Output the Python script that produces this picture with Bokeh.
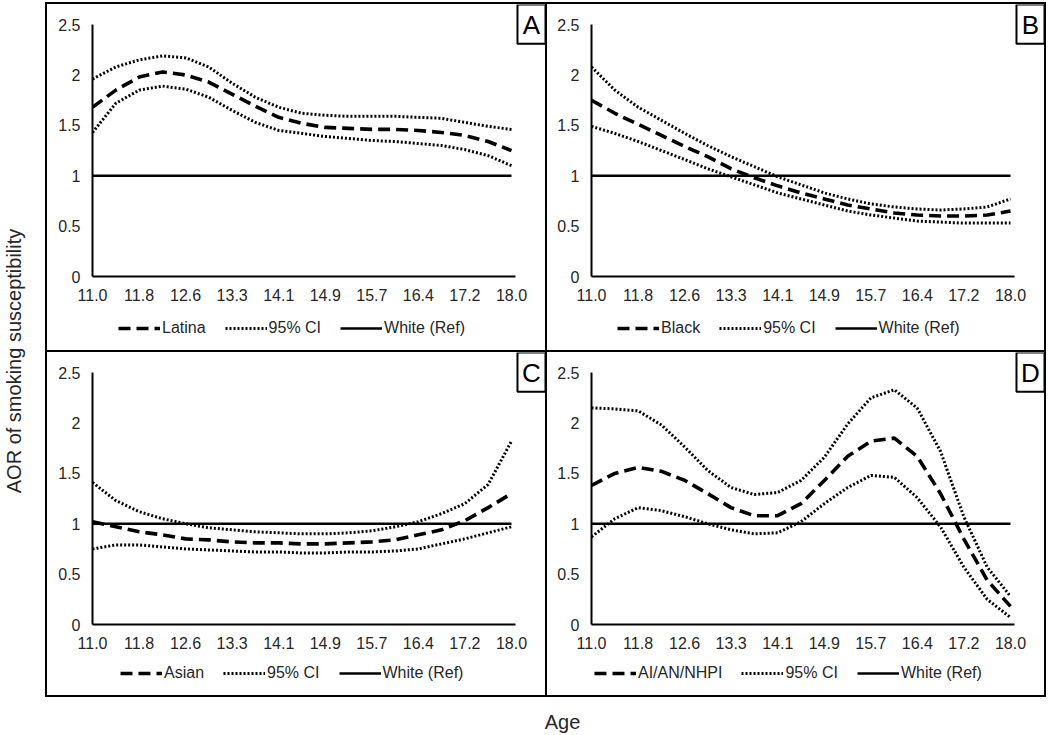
import numpy as np
from bokeh.plotting import figure
from bokeh.models import (Range1d, FixedTicker, Legend, LegendItem, Label, Title, Spacer,
                          BoxAnnotation)
from bokeh.layouts import row, column
from bokeh.embed import file_html
from bokeh.resources import INLINE

# ---------------- data ----------------
AGES = [11.0, 11.39, 11.78, 12.17, 12.56, 12.94, 13.33, 13.72, 14.11, 14.5,
        14.89, 15.28, 15.67, 16.06, 16.44, 16.83, 17.22, 17.61, 18.0]

TICK_POS = [11.0, 11.7778, 12.5556, 13.3333, 14.1111, 14.8889, 15.6667, 16.4444, 17.2222, 18.0]
TICK_LABELS = ["11.0", "11.8", "12.6", "13.3", "14.1", "14.9", "15.7", "16.4", "17.2", "18.0"]
Y_TICKS = [0, 0.5, 1, 1.5, 2, 2.5]
Y_LABELS = ["0", "0.5", "1", "1.5", "2", "2.5"]

REF_AGES = [11.0, 18.0]
REF_AOR = [1.0, 1.0]

LATINA = [1.68, 1.85, 1.98, 2.03, 2.00, 1.93, 1.81, 1.69, 1.58, 1.52,
          1.48, 1.47, 1.46, 1.46, 1.45, 1.43, 1.40, 1.34, 1.25]
LATINA_HI = [1.96, 2.08, 2.15, 2.19, 2.17, 2.08, 1.92, 1.78, 1.68, 1.62,
             1.60, 1.59, 1.59, 1.59, 1.58, 1.57, 1.53, 1.49, 1.46]
LATINA_LO = [1.43, 1.72, 1.85, 1.89, 1.86, 1.78, 1.65, 1.53, 1.45, 1.42,
             1.39, 1.37, 1.35, 1.34, 1.32, 1.30, 1.26, 1.20, 1.10]

BLACK = [1.75, 1.62, 1.51, 1.40, 1.29, 1.19, 1.07, 0.98, 0.90, 0.83,
         0.77, 0.71, 0.67, 0.63, 0.61, 0.60, 0.60, 0.61, 0.65]
BLACK_HI = [2.08, 1.85, 1.68, 1.55, 1.42, 1.30, 1.19, 1.09, 0.99, 0.91,
            0.83, 0.77, 0.72, 0.69, 0.67, 0.66, 0.67, 0.69, 0.77]
BLACK_LO = [1.49, 1.42, 1.34, 1.25, 1.16, 1.07, 0.99, 0.91, 0.83, 0.77,
            0.71, 0.65, 0.61, 0.58, 0.55, 0.54, 0.53, 0.53, 0.53]

ASIAN = [1.02, 0.97, 0.92, 0.89, 0.85, 0.84, 0.82, 0.81, 0.81, 0.80,
         0.80, 0.81, 0.82, 0.84, 0.89, 0.94, 1.03, 1.16, 1.30]
ASIAN_HI = [1.41, 1.23, 1.12, 1.05, 1.00, 0.96, 0.94, 0.92, 0.91, 0.90,
            0.90, 0.91, 0.93, 0.97, 1.02, 1.10, 1.20, 1.39, 1.82]
ASIAN_LO = [0.75, 0.79, 0.79, 0.77, 0.75, 0.74, 0.73, 0.72, 0.72, 0.71,
            0.71, 0.72, 0.72, 0.73, 0.75, 0.80, 0.85, 0.91, 0.97]

AIAN = [1.38, 1.50, 1.56, 1.52, 1.43, 1.30, 1.16, 1.08, 1.08, 1.20,
        1.43, 1.67, 1.82, 1.85, 1.67, 1.30, 0.85, 0.44, 0.18]
AIAN_HI = [2.15, 2.14, 2.12, 1.98, 1.76, 1.53, 1.36, 1.29, 1.31, 1.43,
           1.66, 1.99, 2.25, 2.33, 2.15, 1.72, 1.07, 0.57, 0.28]
AIAN_LO = [0.87, 1.05, 1.16, 1.13, 1.07, 1.00, 0.94, 0.90, 0.91, 1.02,
           1.20, 1.36, 1.48, 1.46, 1.26, 0.97, 0.57, 0.25, 0.07]

# ---------------- styling ----------------
FONT = "Liberation Sans"
TXT = "#262626"
EST_STYLE = dict(line_color="black", line_width=3.6, line_dash="12 6")
CI_STYLE = dict(line_color="black", line_width=3, line_dash="2 2")
REF_STYLE = dict(line_color="black", line_width=2.6)


def plot_panel(est, hi, lo, letter, w, h, ml, mb):
    p = figure(width=w, height=h, x_range=Range1d(11, 18.568), y_range=Range1d(0, 2.7),
               toolbar_location=None, output_backend="svg",
               min_border_left=ml, min_border_right=0, min_border_top=0, min_border_bottom=mb,
               outline_line_color=None, background_fill_color="white",
               border_fill_color="white")
    p.xgrid.grid_line_color = None
    p.ygrid.grid_line_color = None

    p.line(REF_AGES, REF_AOR, **REF_STYLE)
    p.line(AGES, hi, **CI_STYLE)
    p.line(AGES, lo, **CI_STYLE)
    p.line(AGES, est, **EST_STYLE)

    for ax in (p.xaxis[0], p.yaxis[0]):
        ax.axis_line_color = "black"
        ax.axis_line_width = 2
        ax.major_tick_line_color = None
        ax.minor_tick_line_color = None
        ax.major_tick_out = 0
        ax.major_tick_in = 0
        ax.major_label_text_font = FONT
        ax.major_label_text_font_size = "16px"
        ax.major_label_text_color = TXT
    p.xaxis.ticker = FixedTicker(ticks=TICK_POS)
    p.xaxis.major_label_overrides = dict(zip(TICK_POS, TICK_LABELS))
    p.xaxis.major_label_standoff = 12
    p.xaxis.bounds = (11, 18.067)
    p.yaxis.ticker = FixedTicker(ticks=Y_TICKS)
    p.yaxis.major_label_overrides = dict(zip(Y_TICKS, Y_LABELS))
    p.yaxis.major_label_standoff = 12
    p.yaxis.bounds = (0, 2.5)

    # panel letter in its box (top-right corner)
    p.add_layout(BoxAnnotation(left=18.10, bottom=2.31, fill_color="white", fill_alpha=1,
                               line_color="black", line_width=2, line_alpha=1))
    p.add_layout(Label(x=18.334, y=2.5, text=letter, text_font=FONT, text_font_size="26px",
                       text_color="black", text_align="center", text_baseline="middle"))
    return p


def legend_panel(name, est, hi, w, h, lx, ly):
    # hidden copies of the series: only their legend samples are shown
    lf = figure(width=w, height=h, x_range=Range1d(0, 1), y_range=Range1d(0, 1),
                toolbar_location=None, output_backend="svg", min_border=0,
                outline_line_color=None, x_axis_location=None, y_axis_location=None)
    lf.xgrid.grid_line_color = None
    lf.ygrid.grid_line_color = None
    lf.xgrid.visible = False
    lf.ygrid.visible = False
    r_est = lf.line(AGES, est, visible=False, **EST_STYLE)
    r_ci = lf.line(AGES, hi, visible=False, **CI_STYLE)
    r_ref = lf.line(REF_AGES, REF_AOR, visible=False, **REF_STYLE)
    leg = Legend(items=[LegendItem(label=name, renderers=[r_est]),
                        LegendItem(label="95% CI", renderers=[r_ci]),
                        LegendItem(label="White (Ref)", renderers=[r_ref])],
                 orientation="horizontal", location=(lx, ly), click_policy="none",
                 glyph_width=42, glyph_height=20, label_height=20, label_standoff=2,
                 spacing=19, padding=0, margin=0,
                 label_text_font=FONT, label_text_font_size="16px", label_text_color=TXT,
                 border_line_color=None, background_fill_alpha=0,
                 inactive_fill_alpha=0)
    lf.add_layout(leg)
    return lf


def vline(h):
    return Spacer(width=2, height=h, styles={"background-color": "black"})


def hline(w):
    return Spacer(width=w, height=2, styles={"background-color": "black"})


qA = column(plot_panel(LATINA, LATINA_HI, LATINA_LO, "A", 498, 306, 45, 34),
            legend_panel("Latina", LATINA, LATINA_HI, 498, 40, 26, 12))
qB = column(plot_panel(BLACK, BLACK_HI, BLACK_LO, "B", 497, 306, 44, 34),
            legend_panel("Black", BLACK, BLACK_HI, 497, 40, 26, 12))
qC = column(plot_panel(ASIAN, ASIAN_HI, ASIAN_LO, "C", 498, 305, 45, 33),
            legend_panel("Asian", ASIAN, ASIAN_HI, 498, 38, 28, 12))
qD = column(plot_panel(AIAN, AIAN_HI, AIAN_LO, "D", 497, 305, 44, 33),
            legend_panel("AI/AN/NHPI", AIAN, AIAN_HI, 497, 38, 3, 12))

grid = column(Spacer(width=1001, height=2),
              hline(1001),
              row(vline(346), qA, vline(346), qB, vline(346)),
              hline(1001),
              row(vline(343), qC, vline(343), qD, vline(343)),
              hline(1001))

ylab = figure(width=45, height=697, toolbar_location=None, output_backend="svg",
              min_border=0, min_border_top=24, outline_line_color=None,
              x_axis_location=None, y_axis_location=None)
ylab.add_layout(Title(text="AOR of smoking susceptibility", align="center",
                      text_font=FONT, text_font_size="20px", text_font_style="normal",
                      text_color=TXT, standoff=0), "left")

agefig = figure(width=1046, height=36, toolbar_location=None, output_backend="svg",
                min_border=0, min_border_left=78, outline_line_color=None,
                x_axis_location=None, y_axis_location=None)
agefig.add_layout(Title(text="Age", align="center",
                        text_font=FONT, text_font_size="20px", text_font_style="normal",
                        text_color=TXT, standoff=2), "below")

page = column(row(ylab, grid), agefig)

open("out.html", "w").write(file_html(page, INLINE))
